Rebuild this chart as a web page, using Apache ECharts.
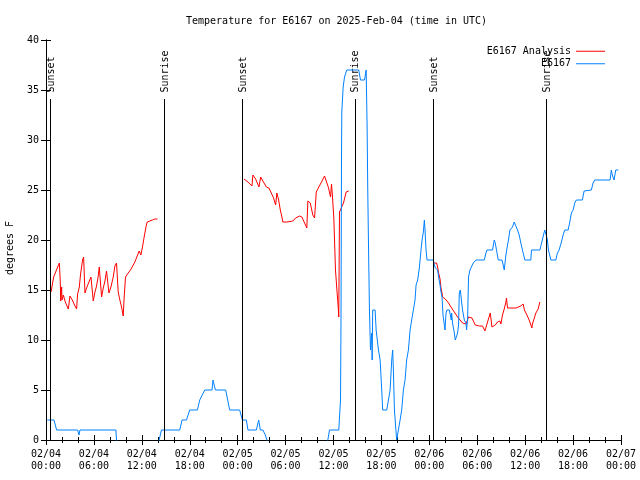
<!DOCTYPE html>
<html>
<head>
<meta charset="utf-8">
<script src="https://cdn.jsdelivr.net/npm/echarts@6/dist/echarts.min.js"></script>
<style>html,body{margin:0;padding:0;background:#fff}#c{width:640px;height:480px}</style>
</head>
<body>
<div id="c"></div>
<script>
// hours since 2025-02-04 00:00 UTC
var redHours = [0.63,0.8,0.96,1.21,1.46,1.67,1.79,1.84,1.96,2.0,2.17,2.42,2.79,2.92,3.0,3.29,3.63,3.83,3.96,4.17,4.33,4.58,4.71,4.88,5.08,5.38,5.63,5.79,5.92,6.13,6.33,6.54,6.67,6.88,6.96,7.17,7.38,7.58,7.7,7.88,8.13,8.42,8.63,8.83,9.04,9.25,9.46,9.67,9.79,9.96,10.29,10.58,10.83,11.13,11.42,11.67,11.88,12.08,12.29,12.54,12.67,13.0,13.33,13.63,13.96,
 14.5,
 24.79,25.29,25.79,25.91,26.25,26.66,26.88,27.16,27.59,27.91,28.21,28.5,28.75,28.91,29.13,29.34,29.54,29.66,30.16,30.38,30.91,31.25,31.75,32.04,32.38,32.66,32.79,33.09,33.41,33.63,33.84,34.16,34.5,34.88,35.09,35.38,35.63,35.75,35.84,36.04,36.25,36.41,36.59,36.66,36.75,37.0,37.25,37.59,37.91,
 38.5,
 48.5,48.91,49.04,49.16,49.34,49.46,49.59,49.66,50.0,50.41,50.71,50.91,51.21,51.54,51.84,52.16,52.59,52.91,53.34,53.75,54.25,54.66,54.96,55.29,55.63,55.84,56.25,56.54,56.84,56.96,57.16,57.38,57.59,57.66,57.79,58.84,59.46,59.75,59.91,60.16,60.5,60.84,60.91,61.34,61.63,61.75,61.84];
var redTemps = [14.8,14.8,16.3,16.8,17.3,17.7,15.8,13.9,15.3,14.0,14.5,13.8,13.1,13.1,14.4,14.0,13.4,13.1,14.6,15.3,16.6,18.0,18.3,14.7,15.2,15.8,16.3,16.3,13.9,14.8,15.4,16.4,17.3,17.3,14.3,15.2,15.9,16.9,17.0,14.7,15.3,16.3,17.4,17.7,14.8,14.0,13.3,12.4,14.3,16.3,16.7,17.0,17.2,17.8,18.4,18.9,18.5,19.3,20.3,21.4,21.8,21.9,22.0,22.1,22.1,
 null,
 26.1,25.8,25.4,26.5,26.1,25.3,26.3,25.9,25.3,25.2,24.7,24.2,23.5,24.7,24.0,23.0,22.3,21.8,21.8,21.9,21.9,22.2,22.4,22.3,21.7,21.2,23.9,23.7,22.5,22.2,24.8,25.3,25.8,26.4,26.2,25.2,24.3,25.6,24.7,22.2,17.0,15.2,13.3,12.3,22.8,22.9,23.7,24.8,24.9,
 null,
 17.7,17.7,17.3,16.7,16.1,15.2,14.7,14.3,14.1,13.7,13.3,13.1,12.7,12.3,12.0,11.7,11.6,12.3,12.2,11.5,11.4,11.4,10.9,11.8,12.7,11.3,11.5,11.8,11.9,11.6,12.5,13.1,13.8,14.2,13.2,13.2,13.4,13.6,13.0,12.6,12.0,11.2,11.6,12.7,13.1,13.2,13.8];

var blueHours = [0.16,1.0,1.33,3.96,4.13,4.25,8.75,8.83,9.0,14.0,14.16,14.46,16.75,17.04,17.59,18.0,18.96,19.25,19.88,20.79,20.91,21.0,21.21,22.5,23.0,24.25,24.59,25.09,25.29,26.34,26.63,26.84,27.16,27.46,27.66,27.8,35.1,35.29,35.5,36.66,36.88,36.94,37.0,37.04,37.21,37.38,37.66,39.16,39.38,39.88,40.09,40.21,40.29,40.38,40.5,40.63,40.79,40.84,40.91,41.21,41.34,41.63,41.84,42.04,42.16,42.66,42.88,43.09,43.29,43.41,43.5,43.63,43.75,43.91,44.13,44.34,44.54,44.75,44.96,45.16,45.38,45.59,45.79,46.0,46.21,46.34,46.54,46.75,46.96,47.09,47.25,47.38,47.46,47.59,47.71,48.5,48.63,48.75,49.04,49.16,49.34,49.46,49.59,49.71,49.88,49.96,50.09,50.21,50.5,50.63,50.75,50.79,50.91,51.13,51.25,51.41,51.54,51.66,51.75,51.88,52.04,52.16,52.38,52.59,52.66,52.79,52.91,53.09,53.29,53.5,53.84,54.88,55.09,55.21,55.91,56.13,56.25,56.41,56.63,57.09,57.25,57.38,57.59,57.79,57.91,58.09,58.41,58.63,58.75,58.84,59.04,59.25,59.46,59.66,59.96,60.71,60.79,61.84,62.09,62.29,62.46,62.66,62.79,62.91,63.13,63.21,63.84,64.04,64.25,64.54,64.75,64.96,65.38,65.59,65.79,66.0,66.21,66.41,67.16,67.38,67.59,68.29,68.5,68.71,70.63,70.79,70.91,71.13,71.34,71.66];
var blueTemps = [2,2,1,1,0.5,1,1,0,-1,-1,0,1,1,2,2,3,3,4,5,5,6,5.7,5,5,3,3,2,2,1,1,2,1,1,0.5,0,-1,-1,0,1,1,4,12,28,32.8,35.3,36.3,37,37,36,36,37,31.3,25,19.7,13,9,10.7,8,13,13,11,9,8,5,3,3,4,5,8,9,7,3,1.7,0,0,2,3,5,6,8,9,11,12,13,14,15.5,16,17.2,19,20,20.8,22,21,19,18,18,17.5,17.2,17,16.3,15.5,14.8,14.3,12.5,11.5,11,12.7,13,13,12.5,12,12.7,11.7,10.7,10,10,10.7,11.5,14.7,15,13.8,13,12,11.7,11,12,16.3,17,17,17.7,18,18,18.7,19,19,20,19.7,19,18,18,17.5,17,18.5,19.5,20,21,21.3,21.8,22,21.7,21,20.5,19.7,19,18,18,19,19,19.8,20.5,21,21,20,19,18.3,18,18,18.7,19,19.8,20.5,21,21,21.8,22.7,23,23.7,24,24,24.9,25,25,25.7,26,26,27,26.5,26,27,27];

var sunHours = [0.54,14.79,24.54,38.67,48.54,62.66];
var sunNames = ['Sunset','Sunrise','Sunset','Sunrise','Sunset','Sunrise'];
var sunLineTop = 34.1;
var sunLabelAt = 34.75;

var dayLabels = ['02/04','02/05','02/06','02/07'];

function pairs(h, v){ return h.map(function(x,i){ return [x, v[i] === null ? '-' : v[i]]; }); }

var FONT = 'DejaVu Sans Mono';
var chart = echarts.init(document.getElementById('c'), null, {renderer:'canvas'});
var tickStyle = {show:true, inside:true, length:5, lineStyle:{color:'#000', width:1}};
var minorStyle = {show:true, splitNumber:3, length:3, lineStyle:{color:'#000', width:1}};
var axLine = {show:true, lineStyle:{color:'#000', width:1}};
chart.setOption({
  animation:false,
  backgroundColor:'#fff',
  title:{text:'Temperature for E6167 on 2025-Feb-04 (time in UTC)', left:181, top:11,
    textStyle:{fontFamily:FONT, fontSize:10, fontWeight:'normal', color:'#000'}},
  legend:{data:['E6167 Analysis','E6167'], orient:'vertical', right:30, top:40, align:'right',
    icon:'rect', itemWidth:29, itemHeight:1, itemGap:0,
    textStyle:{fontFamily:FONT, fontSize:10, color:'#000', lineHeight:12.5}},
  grid:{left:46, right:19, top:40, bottom:40, containLabel:false, outerBoundsMode:'none'},
  graphic:[{type:'text', x:10, y:248, rotation:Math.PI/2,
    style:{text:'degrees F', fontFamily:FONT, fontSize:10, fill:'#000', align:'center', verticalAlign:'middle'}}],
  xAxis:[{type:'value', min:0, max:72, interval:6, position:'bottom',
      axisLine:axLine, axisTick:tickStyle, minorTick:minorStyle, splitLine:{show:false},
      axisLabel:{margin:8, fontFamily:FONT, fontSize:10, color:'#000', lineHeight:12.5,
        formatter:function(v){ var d=Math.floor(v/24); var h=v%24; return dayLabels[d]+'\n'+(h<10?'0':'')+h+':00'; }}},
    {type:'value', min:0, max:72, interval:6, position:'top',
      axisLine:axLine, axisTick:tickStyle, minorTick:minorStyle, splitLine:{show:false}, axisLabel:{show:false}}],
  yAxis:[{type:'value', min:0, max:40, interval:5, position:'left',
      axisLine:axLine, axisTick:tickStyle, splitLine:{show:false},
      axisLabel:{margin:7, fontFamily:FONT, fontSize:10, color:'#000'}},
    {type:'value', min:0, max:40, interval:5, position:'right',
      axisLine:axLine, axisTick:tickStyle, splitLine:{show:false}, axisLabel:{show:false}}],
  series:[
    {name:'sunlines', type:'line', data:[], silent:true,
      markLine:{silent:true, symbol:['none','none'], animation:false,
        lineStyle:{color:'#000', width:1, type:'solid'}, label:{show:false},
        data: sunHours.map(function(h){ return [{coord:[h, sunLineTop]},{coord:[h, 0]}]; })}},
    {name:'sunlabels', type:'scatter', symbolSize:0, silent:true,
      data: sunHours.map(function(h,i){ return {value:[h, sunLabelAt], name:sunNames[i]}; }),
      label:{show:true, formatter:'{b}', position:[1,0], rotate:90, align:'left', verticalAlign:'middle',
        fontFamily:FONT, fontSize:10, color:'#000', opacity:1}},
    {name:'E6167 Analysis', type:'line', data:pairs(redHours, redTemps), showSymbol:false, symbol:'none',
      connectNulls:false, clip:true, lineStyle:{color:'#ff0000', width:1}, itemStyle:{color:'#ff0000'}},
    {name:'E6167', type:'line', data:pairs(blueHours, blueTemps), showSymbol:false, symbol:'none',
      clip:true, lineStyle:{color:'#0080ff', width:1}, itemStyle:{color:'#0080ff'}}
  ]
});
</script>
</body>
</html>
